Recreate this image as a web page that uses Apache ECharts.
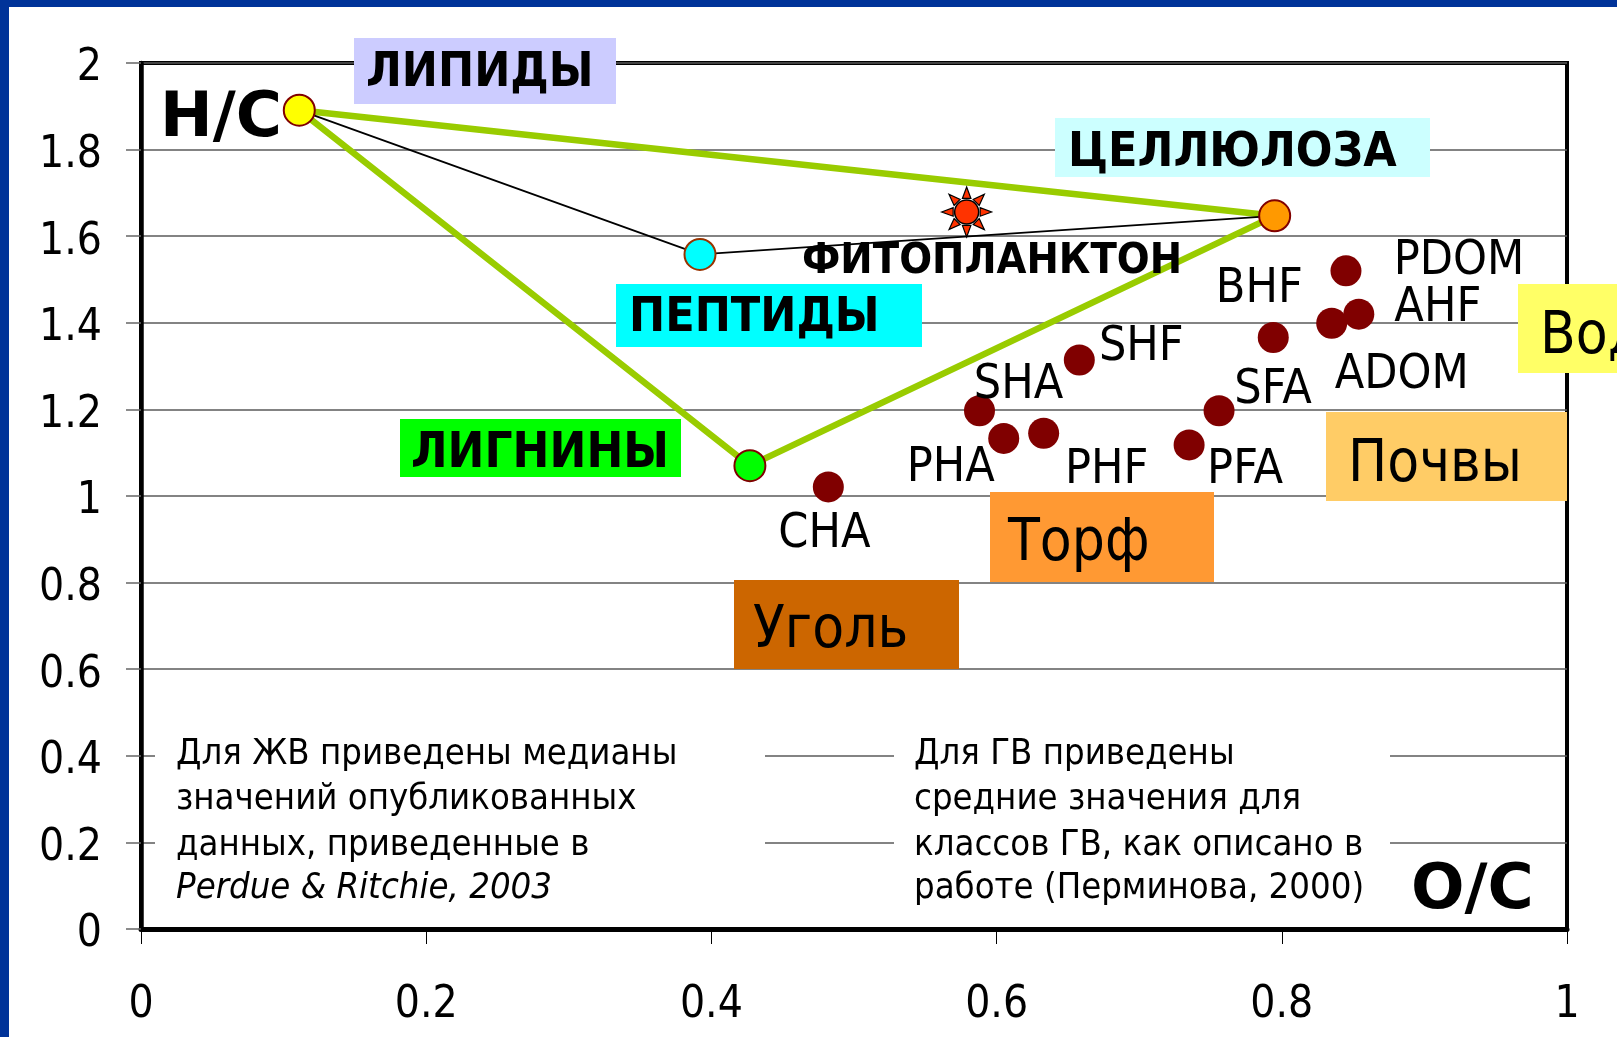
<!DOCTYPE html>
<html>
<head>
<meta charset="utf-8">
<script src="https://cdn.jsdelivr.net/npm/echarts@6/dist/echarts.min.js"></script>
<style>
html,body{margin:0;padding:0;background:#fff;}
#chart{width:1617px;height:1037px;}
</style>
</head>
<body>
<div id="chart"></div>
<script>
// ---------- DATA ----------
// Biopolymers (Perdue & Ritchie, 2003 medians)
const bioNames = ['ЛИПИДЫ', 'ПЕПТИДЫ', 'ЛИГНИНЫ', 'ЦЕЛЛЮЛОЗА'];
const bioOC = [0.111, 0.392, 0.427, 0.795];
const bioHC = [1.891, 1.558, 1.070, 1.647];
// Phytoplankton
const phytoOC = [0.579];
const phytoHC = [1.656];
// Humic substance classes (Перминова, 2000)
const hsNames = ['CHA', 'SHA', 'PHA', 'PHF', 'SHF', 'PFA', 'SFA', 'BHF', 'ADOM', 'AHF', 'PDOM'];
const hsOC = [0.482, 0.588, 0.605, 0.633, 0.658, 0.735, 0.756, 0.794, 0.835, 0.854, 0.845];
const hsHC = [1.021, 1.197, 1.133, 1.145, 1.314, 1.118, 1.197, 1.366, 1.399, 1.420, 1.520];
// Outline orders (indices into biopolymer arrays)
const triangleOrder = [0, 3, 2, 0];   // lipids -> cellulose -> lignins -> lipids
const thinLineOrder = [0, 1, 3];      // lipids -> peptides -> cellulose
// Axis ticks
const xTickValues = [0, 0.2, 0.4, 0.6, 0.8, 1];
const yTickValues = [0, 0.2, 0.4, 0.6, 0.8, 1, 1.2, 1.4, 1.6, 1.8, 2];

// ---------- STYLES ----------
const FONT = '"DejaVu Sans Condensed", "DejaVu Sans", sans-serif';
const FONTW = '"DejaVu Sans", sans-serif';
const bioStyles = [
  {color: '#FFFF00', borderColor: '#800000'},
  {color: '#00FFFF', borderColor: '#993300'},
  {color: '#00FF00', borderColor: '#800000'},
  {color: '#FF9900', borderColor: '#800000'}
];
const hsLabelOffsets = {
  CHA: [-4, 48], SHA: [39, -25], PHA: [-53, 30], PHF: [63, 37], SHF: [62, -13],
  PFA: [56, 26], SFA: [54, -20], BHF: [-14, -48], ADOM: [70, 52], AHF: [79, -6], PDOM: [113, -9]
};

// sun rays path
function sunRaysPath() {
  let d = '';
  const c = 50, rTip = 50, rBase = 27, hw = 8.5;
  for (let i = 0; i < 8; i++) {
    const a = i * Math.PI / 4;
    const ux = Math.sin(a), uy = -Math.cos(a);
    const px = Math.cos(a), py = Math.sin(a);
    const tx = c + ux * rTip, ty = c + uy * rTip;
    const b1x = c + ux * rBase + px * hw, b1y = c + uy * rBase + py * hw;
    const b2x = c + ux * rBase - px * hw, b2y = c + uy * rBase - py * hw;
    d += 'M' + tx.toFixed(2) + ' ' + ty.toFixed(2) + 'L' + b1x.toFixed(2) + ' ' + b1y.toFixed(2) +
         'L' + b2x.toFixed(2) + ' ' + b2y.toFixed(2) + 'Z';
  }
  return 'path://' + d;
}

const chart = echarts.init(document.getElementById('chart'), null, {renderer: 'canvas'});

const triangleData = triangleOrder.map(i => [bioOC[i], bioHC[i]]);
const thinData = thinLineOrder.map(i => [bioOC[i], bioHC[i]]);
const bioData = bioNames.map((n, i) => ({
  name: n, value: [bioOC[i], bioHC[i]],
  itemStyle: {color: bioStyles[i].color, borderColor: bioStyles[i].borderColor, borderWidth: 2, opacity: 1}
}));
const hsData = hsNames.map((n, i) => ({
  name: n, value: [hsOC[i], hsHC[i]],
  label: {offset: hsLabelOffsets[n]}
}));
const phytoData = phytoOC.map((v, i) => [v, phytoHC[i]]);

// ---------- ANNOTATIONS (pixel layout) ----------
const boxes = [
  {x: 354, y: 38, w: 262, h: 66, fill: '#CCCCFF'},
  {x: 1055, y: 118, w: 375, h: 59, fill: '#CCFFFF'},
  {x: 616, y: 284, w: 306, h: 63, fill: '#00FFFF'},
  {x: 400, y: 419, w: 281, h: 58, fill: '#00FF00'},
  {x: 1518, y: 284, w: 120, h: 89, fill: '#FFFF66'},
  {x: 1326, y: 412, w: 241, h: 89, fill: '#FFCC66'},
  {x: 990, y: 492, w: 224, h: 90, fill: '#FF9933'},
  {x: 734, y: 580, w: 225, h: 89, fill: '#CC6600'},
  {x: 155, y: 705, w: 610, h: 212, fill: '#FFFFFF'},
  {x: 894, y: 705, w: 496, h: 212, fill: '#FFFFFF'}
];
const texts = [
  {t: 'ЛИПИДЫ', x: 366, y: 74, f: 'bold 48px ' + FONT},
  {t: 'ЦЕЛЛЮЛОЗА', x: 1068, y: 154, f: 'bold 48px ' + FONT},
  {t: 'ПЕПТИДЫ', x: 629, y: 319, f: 'bold 48px ' + FONT},
  {t: 'ЛИГНИНЫ', x: 411, y: 454, f: 'bold 49px ' + FONT},
  {t: 'ФИТОПЛАНКТОН', x: 802, y: 262, f: 'bold 43px ' + FONT, z: 10},
  {t: 'Вод', x: 1540, y: 338, f: '58px ' + FONT},
  {t: 'Почвы', x: 1348, y: 466, f: '58px ' + FONT},
  {t: 'Торф', x: 1008, y: 545, f: '58px ' + FONT},
  {t: 'Уголь', x: 753, y: 632, f: '58px ' + FONT},
  {t: 'H/C', x: 160, y: 120, f: 'bold 63px ' + FONTW, z: 10},
  {t: 'O/C', x: 1411, y: 892, f: 'bold 63px ' + FONTW, z: 10},
  {t: 'Для ЖВ приведены медианы', x: 176, y: 755, f: '36.2px ' + FONT},
  {t: 'значений опубликованных', x: 176, y: 800, f: '36.2px ' + FONT},
  {t: 'данных, приведенные в', x: 176, y: 846, f: '36.2px ' + FONT},
  {t: 'Perdue & Ritchie, 2003', x: 176, y: 889, f: 'italic 36.2px ' + FONT},
  {t: 'Для ГВ приведены', x: 914, y: 755, f: '36.2px ' + FONT},
  {t: 'средние значения для', x: 914, y: 800, f: '36.2px ' + FONT},
  {t: 'классов ГВ, как описано в', x: 914, y: 846, f: '36.2px ' + FONT},
  {t: 'работе (Перминова, 2000)', x: 914, y: 889, f: '36.2px ' + FONT}
];
const graphic = [
  {type: 'rect', shape: {x: 0, y: 0, width: 1617, height: 7}, style: {fill: '#003399'}, z: 20},
  {type: 'rect', shape: {x: 0, y: 0, width: 9, height: 1037}, style: {fill: '#003399'}, z: 20}
];
boxes.forEach(b => graphic.push({type: 'rect', shape: {x: b.x, y: b.y, width: b.w, height: b.h},
  style: {fill: b.fill}, z: 1, silent: true}));
texts.forEach(t => graphic.push({type: 'text', x: t.x, y: t.y, z: t.z || 1, z2: 10, silent: true,
  style: {text: t.t, font: t.f, fill: '#000', textAlign: 'left', textVerticalAlign: 'middle'}}));

chart.setOption({
  animation: false,
  backgroundColor: '#FFFFFF',
  grid: {left: 141, right: 50, top: 63, bottom: 108, show: true, borderColor: '#000', borderWidth: 4, backgroundColor: 'transparent'},
  xAxis: {
    type: 'value', min: 0, max: 1, interval: 0.2,
    axisLine: {show: true, onZero: false, lineStyle: {color: '#000', width: 5}},
    axisTick: {show: true, inside: false, length: 15, lineStyle: {color: '#000', width: 1}},
    axisLabel: {show: true, margin: 77, verticalAlign: 'middle', color: '#000', fontSize: 44, fontFamily: FONT,
      formatter: v => { const i = xTickValues.indexOf(+v.toFixed(1)); return i >= 0 ? String(xTickValues[i]) : ''; }},
    splitLine: {show: false}
  },
  yAxis: {
    type: 'value', min: 0, max: 2, interval: 0.2,
    axisLine: {show: true, onZero: false, lineStyle: {color: '#000', width: 4.5}},
    axisTick: {show: true, inside: false, length: 15, lineStyle: {color: '#666', width: 1.5}},
    axisLabel: {show: true, margin: 39, color: '#000', fontSize: 44, fontFamily: FONT,
      verticalAlign: 'top', lineHeight: 12,
      formatter: v => { const i = yTickValues.indexOf(+v.toFixed(1)); return i >= 0 ? String(yTickValues[i]) : ''; }},
    splitLine: {show: true, lineStyle: {color: '#5a5a5a', width: 1.5}}
  },
  graphic: graphic,
  series: [
    {type: 'line', data: triangleData, symbol: 'none', z: 3, lineStyle: {color: '#99CC00', width: 6.5}, silent: true},
    {type: 'line', data: thinData, symbol: 'none', z: 3, lineStyle: {color: '#000', width: 1.8}, silent: true},
    {type: 'scatter', data: bioData, symbol: 'circle', symbolSize: 31, z: 5, silent: true},
    {type: 'scatter', data: phytoData, symbol: sunRaysPath(), symbolSize: 50, z: 5, silent: true,
      itemStyle: {color: '#FF3300', borderColor: '#000', borderWidth: 1.2, opacity: 1}},
    {type: 'scatter', data: phytoData, symbol: 'circle', symbolSize: 24, z: 6, silent: true,
      itemStyle: {color: '#FF3300', borderColor: '#000', borderWidth: 1.5, opacity: 1}},
    {type: 'scatter', data: hsData, symbol: 'circle', symbolSize: 31, z: 5, silent: true,
      itemStyle: {color: '#800000', opacity: 1},
      label: {show: true, position: 'inside', formatter: p => p.name, color: '#000', fontSize: 48, fontFamily: FONT,
        align: 'center', verticalAlign: 'middle', opacity: 1}}
  ]
});
</script>
</body>
</html>
